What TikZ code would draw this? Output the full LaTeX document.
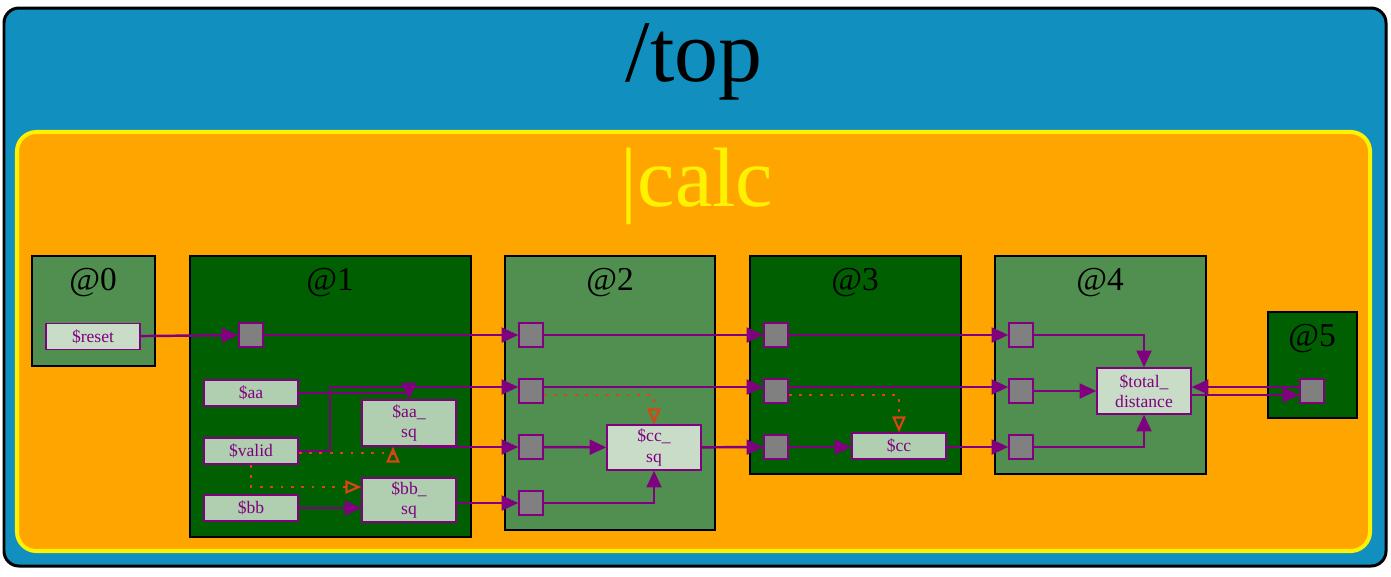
\documentclass[tikz,border=0pt]{standalone}
\usepackage{fontspec}
\setmainfont{Liberation Serif}
\usetikzlibrary{arrows.meta,positioning,calc}

\newlength\px
\setlength\px{0.02cm}

\definecolor{topblue}{RGB}{17,144,192}
\definecolor{calcorange}{RGB}{255,165,0}
\definecolor{stagemid}{RGB}{80,143,80}
\definecolor{stagedark}{RGB}{0,95,0}
\definecolor{siglight}{RGB}{200,220,200}
\definecolor{sigdark}{RGB}{176,206,176}
\definecolor{sigpurple}{RGB}{128,0,128}
\definecolor{ctrlred}{RGB}{221,68,17}

\tikzset{
  df/top/.style={draw=black, line width=1.7pt, fill=topblue, rounded corners=8.5pt},
  df/module/.style={draw=yellow, line width=2.3pt, fill=calcorange, rounded corners=11pt},
  df/stage/.style={draw=black, line width=1.1pt, fill=stagemid, inner sep=0pt},
  df/stagedark/.style={df/stage, fill=stagedark},
  df/signal/.style={draw=sigpurple, line width=0.85pt, fill=siglight, minimum width=94\px,
    minimum height=26\px, inner sep=0pt, text=sigpurple, align=center,
    font=\fontsize{10}{11.5}\selectfont},
  df/signaldark/.style={df/signal, fill=sigdark},
  df/port/.style={draw=sigpurple, line width=0.85pt, fill=gray, minimum size=24\px, inner sep=0pt},
  df/wire/.style={draw=sigpurple, line width=1.4pt, -{Triangle[length=9.5pt, width=8.5pt]}},
  df/ctrl/.style={draw=ctrlred, line width=1.6pt, dash pattern=on 1.6pt off 4.3pt,
    -{Triangle[open, length=9pt, width=7.5pt, line width=1.2pt]}},
  df/label/.style={font=\fontsize{19}{21}\selectfont}
}

\begin{document}
\begin{tikzpicture}[x=1\px, y=-1\px]
  \useasboundingbox (0,0) rectangle (1391,576);

  % frames
  \node[df/top, minimum width=1382\px, minimum height=558\px] (top) at (695,287) {};
  \node[font=\fontsize{50}{54}\selectfont] (toplabel) at (694,62) {/top};
  \node[df/module, minimum width=1353\px, minimum height=419\px] (calc) at (693.5,341.5) {};
  \node[font=\fontsize{48}{52}\selectfont, text=yellow] (calclabel) at (697,186) {|calc};

  % stages
  \node[df/stage, minimum width=123\px, minimum height=110\px] (s0) at (93.5,311) {};
  \node[df/stagedark, minimum width=281\px, minimum height=281\px] (s1) at (330.5,396.5) {};
  \node[df/stage, minimum width=210\px, minimum height=274\px] (s2) at (610,393) {};
  \node[df/stagedark, minimum width=211\px, minimum height=218\px] (s3) at (855.5,365) {};
  \node[df/stage, minimum width=211\px, minimum height=218\px] (s4) at (1100.5,365) {};
  \node[df/stagedark, minimum width=89\px, minimum height=106\px] (s5) at (1312.5,365) {};

  \node[df/label] (s0l) at (93,283) {@0};
  \node[df/label] (s1l) at (330,283) {@1};
  \node[df/label] (s2l) at (610,283) {@2};
  \node[df/label] (s3l) at (855,283) {@3};
  \node[df/label] (s4l) at (1100,283) {@4};
  \node[df/label] (s5l) at (1312,339) {@5};

  % signals
  \node[df/signal] (reset) at (93,336.5) {\$reset};
  \node[df/port] (p1) at (251,335) {};
  \node[df/signaldark] (aa) at (251,393) {\$aa};
  \node[df/signaldark] (valid) at (251,451) {\$valid};
  \node[df/signaldark] (bb) at (251,508) {\$bb};
  \node[df/signaldark, minimum height=46\px] (aasq) at (409,423) {\$aa\_\\sq};
  \node[df/signaldark, minimum height=44\px] (bbsq) at (409,500) {\$bb\_\\sq};

  \node[df/port] (p2a) at (531,335) {};
  \node[df/port] (p2b) at (531,391) {};
  \node[df/port] (p2c) at (531,447) {};
  \node[df/port] (p2d) at (531,503) {};
  \node[df/signal, minimum height=45\px] (ccsq) at (654,447.5) {\$cc\_\\sq};

  \node[df/port] (p3a) at (776,335) {};
  \node[df/port] (p3b) at (776,391) {};
  \node[df/port] (p3c) at (776,447) {};
  \node[df/signaldark] (cc) at (899,446) {\$cc};

  \node[df/port] (p4a) at (1021,335) {};
  \node[df/port] (p4b) at (1021,391) {};
  \node[df/port] (p4c) at (1021,447) {};
  \node[df/signal, minimum height=46\px] (total) at (1144,391) {\$total\_\\distance};

  \node[df/port] (p5) at (1312,391) {};

  \coordinate (hi) at (0,387);
  \coordinate (lo) at (0,395);

  % data wires
  \draw[df/wire] (reset) -- (p1);
  \draw[df/wire] (p1) -- (p2a);
  \draw[df/wire] (p2a) -- (p3a);
  \draw[df/wire] (p3a) -- (p4a);
  \draw[df/wire] (p4a.east) -| (total.north);

  \draw[df/wire] (aa.east) -| (aasq.north);
  \draw[df/wire] (valid.east) -| (330,387) -- (p2b.west |- hi);
  \draw[df/wire] ($(aasq.south)+(14,0)$) |- (p2c.west);
  \draw[df/wire] (bb.east) -- (bbsq.west |- bb.east);
  \draw[df/wire] (bbsq.east |- p2d) -- (p2d);

  \draw[df/wire] (p2b.east |- hi) -- (p3b.west |- hi);
  \draw[df/wire] (p2c) -- (ccsq);
  \draw[df/wire] (p2d.east) -| (ccsq.south);
  \draw[df/wire] (ccsq) -- (p3c);

  \draw[df/wire] (p3b.east |- hi) -- (p4b.west |- hi);
  \draw[df/wire] (p3c) -- (cc.west |- p3c);
  \draw[df/wire] (cc.east |- p4c) -- (p4c);

  \draw[df/wire] (p4b) -- (total);
  \draw[df/wire] (p4c.east) -| (total.south);
  \draw[df/wire] (p5.west |- hi) -- (total.east |- hi);
  \draw[df/wire] (total.east |- lo) -- (p5.west |- lo);

  % control (valid) wires
  \draw[df/ctrl] (valid.east |- 0,453) -| ($(aasq.south)+(-16,0)$);
  \draw[df/ctrl] (valid.south) |- ($(bbsq.west)+(0,-13)$);
  \draw[df/ctrl] (p2b.east |- lo) -| (ccsq.north);
  \draw[df/ctrl] (p3b.east |- lo) -| (cc.north);
\end{tikzpicture}
\end{document}
